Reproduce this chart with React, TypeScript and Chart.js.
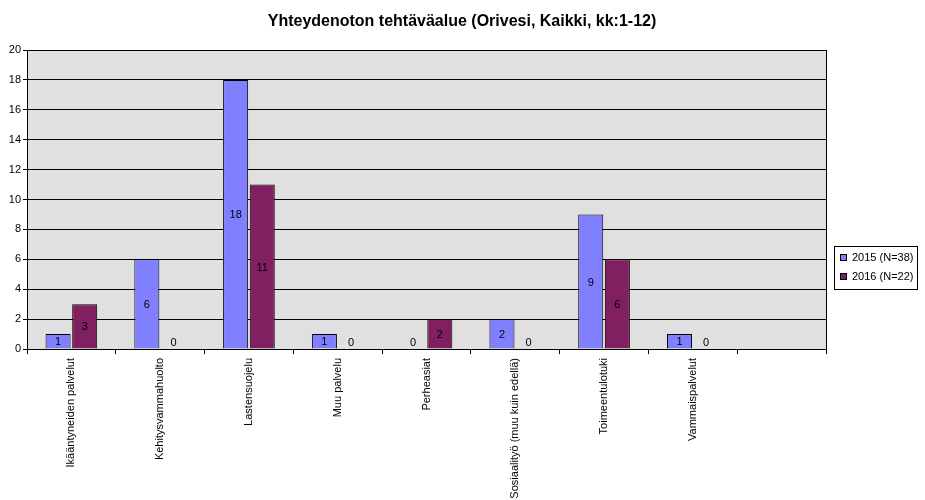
import React, { useEffect, useRef } from "react";
import { Chart, registerables } from "chart.js";

Chart.register(...registerables);

const TITLE = "Yhteydenoton tehtäväalue (Orivesi, Kaikki, kk:1-12)";
const categories = [
  "Ikääntyneiden palvelut",
  "Kehitysvammahuolto",
  "Lastensuojelu",
  "Muu palvelu",
  "Perheasiat",
  "Sosiaalityö (muu kuin edellä)",
  "Toimeentulotuki",
  "Vammaispalvelut",
  "",
];
const series2015Label = "2015 (N=38)";
const series2016Label = "2016 (N=22)";
const values2015 = [1, 6, 18, 1, 0, 2, 9, 1, null];
const values2016 = [3, 0, 11, 0, 2, 0, 6, 0, null];
const yMin = 0;
const yMax = 20;
const yStep = 2;

const FONT = "Arial, 'Liberation Sans', sans-serif";

const bgPlugin = {
  id: "bgPlugin",
  beforeDraw(chart: any) {
    const { ctx, chartArea } = chart;
    ctx.save();
    ctx.fillStyle = "#ffffff";
    ctx.fillRect(0, 0, chart.width, chart.height);
    ctx.fillStyle = "#E0E0E0";
    ctx.fillRect(chartArea.left, chartArea.top, chartArea.right - chartArea.left, chartArea.bottom - chartArea.top);
    ctx.restore();
  },
};

const decorPlugin = {
  id: "decorPlugin",
  afterDatasetsDraw(chart: any) {
    const { ctx, chartArea } = chart;
    ctx.save();
    // value labels
    ctx.font = "11px " + FONT;
    ctx.fillStyle = "#000000";
    ctx.textAlign = "center";
    ctx.textBaseline = "middle";
    chart.data.datasets.forEach((ds: any, di: number) => {
      const meta = chart.getDatasetMeta(di);
      meta.data.forEach((el: any, i: number) => {
        const v = ds.data[i];
        if (v === null || v === undefined) return;
        const props = el.getProps(["x", "y", "base"], true);
        let y = (props.y + props.base) / 2;
        if (y > props.base - 7) y = props.base - 7;
        ctx.fillText(String(v), props.x, y + 1);
      });
    });
    // plot border
    ctx.strokeStyle = "#000000";
    ctx.lineWidth = 1;
    ctx.strokeRect(
      Math.round(chartArea.left) + 0.5,
      Math.round(chartArea.top) + 0.5,
      Math.round(chartArea.right - chartArea.left),
      Math.round(chartArea.bottom - chartArea.top)
    );
    ctx.restore();
  },
  afterDraw(chart: any) {
    const { ctx } = chart;
    ctx.save();
    // title
    ctx.font = "bold 16px " + FONT;
    ctx.fillStyle = "#000000";
    ctx.textAlign = "center";
    ctx.textBaseline = "middle";
    ctx.fillText(TITLE, 462, 22);
    // legend
    const bx = 834, by = 246, bw = 83, bh = 43;
    ctx.fillStyle = "#ffffff";
    ctx.fillRect(bx, by, bw, bh);
    ctx.strokeStyle = "#000000";
    ctx.lineWidth = 1;
    ctx.strokeRect(bx + 0.5, by + 0.5, bw, bh);
    ctx.font = "11px " + FONT;
    ctx.textAlign = "left";
    chart.data.datasets.forEach((ds: any, i: number) => {
      const cy = 257 + i * 19;
      ctx.fillStyle = ds.backgroundColor;
      ctx.fillRect(840, cy - 3, 7, 7);
      ctx.strokeRect(840.5, cy - 2.5, 6, 6);
      ctx.fillStyle = "#000000";
      ctx.fillText(ds.label, 852, cy + 1);
    });
    ctx.restore();
  },
};

export default function App() {
  const ref = useRef<HTMLCanvasElement | null>(null);
  useEffect(() => {
    document.body.style.margin = "0";
    const canvas = ref.current;
    if (!canvas) return;
    const chart = new Chart(canvas, {
      type: "bar",
      data: {
        labels: categories,
        datasets: [
          {
            label: series2015Label,
            data: values2015 as any,
            backgroundColor: "#8080FF",
            borderColor: "#000000",
            borderWidth: 1,
            categoryPercentage: 0.6,
            barPercentage: 0.94,
          },
          {
            label: series2016Label,
            data: values2016 as any,
            backgroundColor: "#802060",
            borderColor: "#000000",
            borderWidth: 1,
            categoryPercentage: 0.6,
            barPercentage: 0.94,
          },
        ],
      },
      options: {
        animation: false,
        responsive: false,
        maintainAspectRatio: false,
        layout: { padding: { left: 0, top: 50, right: 99, bottom: 0 } },
        plugins: {
          legend: { display: false },
          title: { display: false },
          tooltip: { enabled: false },
        },
        scales: {
          x: {
            offset: true,
            grid: {
              offset: true,
              drawOnChartArea: false,
              drawTicks: true,
              tickLength: 5,
              color: "#000000",
            },
            border: { display: true, color: "#000000" },
            ticks: {
              autoSkip: false,
              minRotation: 90,
              maxRotation: 90,
              padding: 4,
              color: "#000000",
              font: { family: FONT, size: 11 },
            },
            afterFit(scale: any) {
              scale.height = 151;
            },
          },
          y: {
            min: yMin,
            max: yMax,
            grid: {
              color: "#000000",
              drawTicks: true,
              tickLength: 4,
            },
            border: { display: true, color: "#000000" },
            ticks: {
              stepSize: yStep,
              padding: 2,
              color: "#000000",
              font: { family: FONT, size: 11 },
            },
            afterFit(scale: any) {
              scale.width = 27;
            },
          },
        },
      },
      plugins: [bgPlugin, decorPlugin],
    });
    return () => chart.destroy();
  }, []);
  return (
    <div style={{ width: 925, height: 500 }}>
      <canvas ref={ref} width={925} height={500} style={{ display: "block" }} />
    </div>
  );
}
